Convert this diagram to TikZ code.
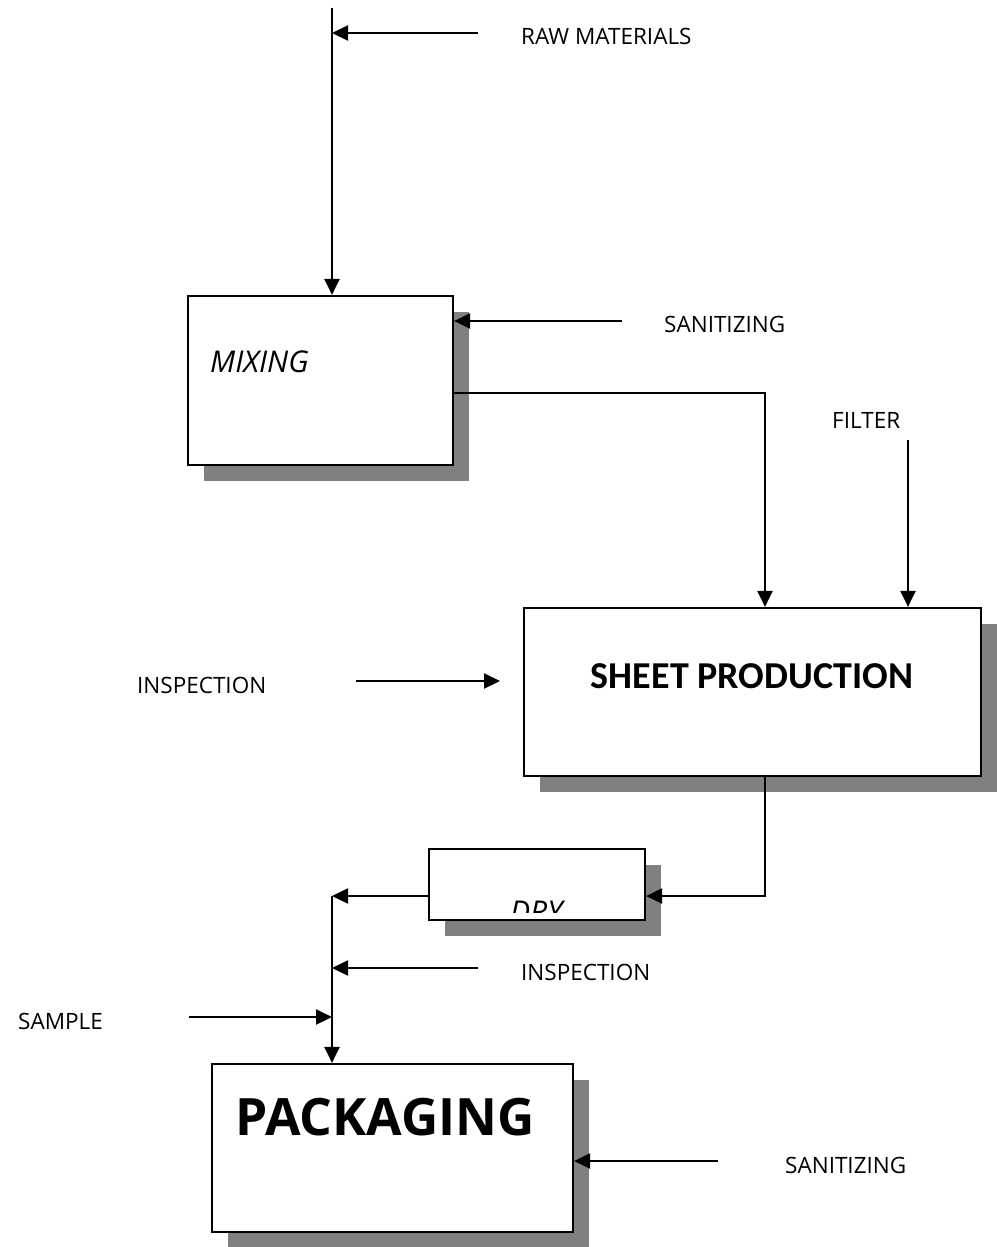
\documentclass[tikz,border=0pt]{standalone}
\usepackage{fontspec}
\setmainfont{Open Sans}
\newfontfamily\carlito{Carlito}
\usetikzlibrary{arrows.meta}
\usetikzlibrary{shadows}

\begin{document}
\begin{tikzpicture}[x=1pt,y=-1pt,
  procbox/.style={draw, line width=2.2pt, fill=white, inner sep=0pt,
    drop shadow={shadow xshift=16pt, shadow yshift=-16pt, fill=gray, opacity=1}},
  flow/.style={line width=2.2pt, -{Triangle[length=16pt,width=15pt]}},
  lbl/.style={anchor=base west, inner sep=0pt, font=\fontsize{22.5}{26}\selectfont}]
\useasboundingbox (0,0) rectangle (996,1247);

%Shape: Rectangle [id:mixing]
\node [procbox, minimum width=265pt, minimum height=169pt] (mixing) at (320.5,380.5) {};
%Shape: Rectangle [id:sheet]
\node [procbox, minimum width=457pt, minimum height=168pt] (sheet) at (752.5,692) {};
%Shape: Rectangle [id:dry]
\node [procbox, minimum width=216pt, minimum height=71pt] (dry) at (537,884.5) {};
%Shape: Rectangle [id:pack]
\node [procbox, minimum width=361pt, minimum height=168pt] (pack) at (392.5,1148) {};

%Free ends of the connectors
\coordinate (feed) at (332,8);
\coordinate (rawin) at (478,33);
\coordinate (sanin) at (622,321);
\coordinate (filterin) at (908,440);
\coordinate (inspa) at (356,681);
\coordinate (inspb) at (500,681);
\coordinate (join) at (332,896);
\coordinate (inspin) at (478,968);
\coordinate (sampin) at (189,1017);
\coordinate (sanpin) at (718,1161);

%Straight Lines [id:feed]
\draw [flow] (feed) -- (feed |- mixing.north);
%Straight Lines [id:raw]
\draw [flow] (rawin) -- (rawin -| feed);
%Straight Lines [id:sanitize]
\draw [flow] (sanin) -- (sanin -| mixing.east);
%Straight Lines [id:mixout]
\draw [flow] (mixing.east |- 0,393) -| ([xshift=12.5pt]sheet.north);
%Straight Lines [id:filter]
\draw [flow] (filterin) -- (filterin |- sheet.north);
%Straight Lines [id:inspect]
\draw [flow] (inspa) -- (inspb);
%Straight Lines [id:sheetout]
\draw [flow] ([xshift=12.5pt]sheet.south) |- (dry.east |- join);
%Straight Lines [id:dryout]
\draw [flow] (dry.west |- join) -- (join);
%Straight Lines [id:down]
\draw [flow] (join) -- (join |- pack.north);
%Straight Lines [id:inspect2]
\draw [flow] (inspin) -- (inspin -| join);
%Straight Lines [id:sample]
\draw [flow] (sampin) -- (sampin -| join);
%Straight Lines [id:sanitize2]
\draw [flow] (sanpin) -- (sanpin -| pack.east);

% Text Node
\node [lbl] (rawtxt) at (521,45) {RAW MATERIALS};
% Text Node
\node [lbl] (santxt) at (664,332) {SANITIZING};
% Text Node
\node [lbl] (filtertxt) at (832,428) {FILTER};
% Text Node
\node [lbl] (insptxt) at (137,693) {INSPECTION};
% Text Node
\node [lbl] (insp2txt) at (521,980) {INSPECTION};
% Text Node
\node [lbl] (samptxt) at (18,1029) {SAMPLE};
% Text Node
\node [lbl] (san2txt) at (785,1173) {SANITIZING};
% Text Node
\node [anchor=base west, inner sep=0pt, font=\fontsize{30}{34}\selectfont\itshape] (mixtxt) at (210,372) {MIXING};
% Text Node
\node [anchor=base, inner sep=0pt, font=\carlito\fontsize{38}{44}\selectfont\bfseries] (sheettxt) at (752,688) {SHEET PRODUCTION};
% Text Node
\node [anchor=base west, inner sep=0pt, font=\fontsize{51.5}{58}\selectfont\bfseries] (packtxt) at (235,1135) {PACKAGING};
% Text Node (cut off by the box)
\begin{scope}
\clip (dry.north west) rectangle (645,912);
\node [anchor=base west, inner sep=0pt, font=\fontsize{30}{34}\selectfont\itshape] (drytxt) at (510,922) {DRY};
\end{scope}

\end{tikzpicture}
\end{document}
